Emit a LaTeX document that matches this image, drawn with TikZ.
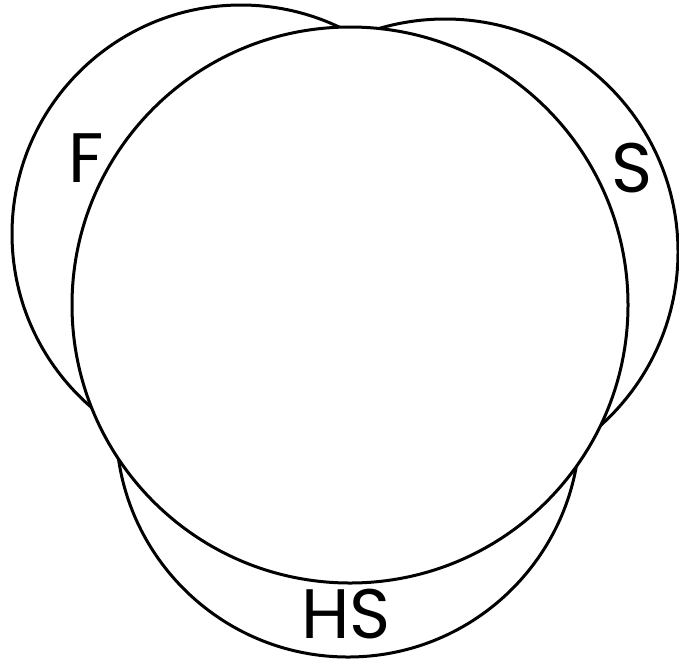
\documentclass[tikz,border=0pt]{standalone}
\usepackage{fontspec}
\setmainfont{Poppins}
\usetikzlibrary{positioning}
\begin{document}
\begin{tikzpicture}[x=1pt,y=-1pt,
  ring/.style={circle, draw, line width=3pt, inner sep=0pt},
  tag/.style={font=\fontsize{70}{70}\selectfont, inner sep=0pt}]
  \useasboundingbox (0,0) rectangle (679,662);
  % the three side circles, then the big one on top
  \node[ring, minimum size=458pt] (f) at (241,234) {};
  \node[ring, minimum size=466pt] (s) at (445,252) {};
  \node[ring, minimum size=464pt] (hs) at (348,425) {};
  \node[ring, fill=white, minimum size=556pt] (all) at (350,305) {};
  \node[tag] (flabel) at (86,158) {F};
  \node[tag] (slabel) at (632,168) {S};
  \node[tag] (hslabel) at (346,614) {HS};
\end{tikzpicture}
\end{document}
